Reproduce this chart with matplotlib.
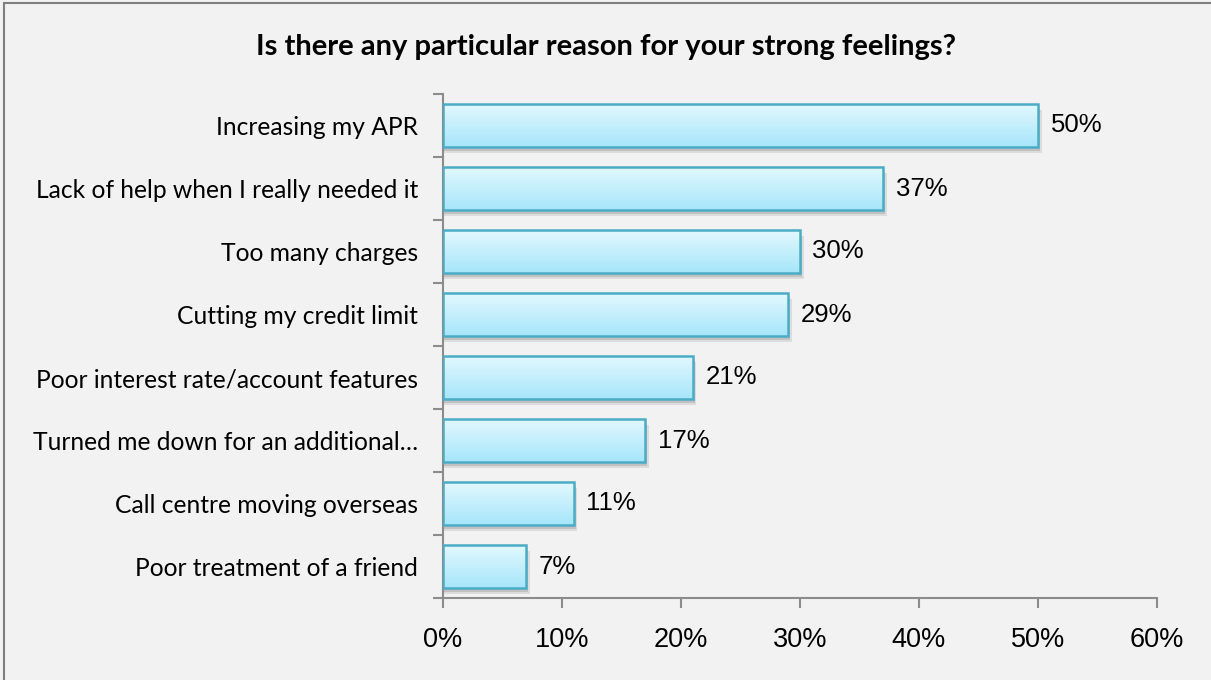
import numpy as np
import matplotlib.pyplot as plt
from matplotlib.colors import LinearSegmentedColormap
from matplotlib.patches import Rectangle
from matplotlib.lines import Line2D

reasons = [
    "Increasing my APR",
    "Lack of help when I really needed it",
    "Too many charges",
    "Cutting my credit limit",
    "Poor interest rate/account features",
    "Turned me down for an additional\u2026",
    "Call centre moving overseas",
    "Poor treatment of a friend",
]
shares = [50, 37, 30, 29, 21, 17, 11, 7]
xticks = [0, 10, 20, 30, 40, 50, 60]

bg = "#f2f2f2"
edge = "#4bacc6"
axis_grey = "#8c8c8c"
grad = LinearSegmentedColormap.from_list("bar", ["#a6e6fa", "#e2f8fe"])

fig = plt.figure(figsize=(12.11, 6.8), dpi=100, facecolor=bg)
ax = fig.add_axes([443 / 1211, 82 / 680, 714 / 1211, 504 / 680])
ax.set_facecolor(bg)

n = len(reasons)
ypos = np.arange(n)[::-1]
h = 0.68

for y, v in zip(ypos, shares):
    # soft drop shadow under each bar
    ax.add_patch(Rectangle((0, y - h / 2 - 0.10), v + 0.3, h, facecolor="#000000",
                           alpha=0.09, edgecolor="none", zorder=1))
    ax.add_patch(Rectangle((0, y - h / 2 - 0.06), v + 0.15, h, facecolor="#000000",
                           alpha=0.12, edgecolor="none", zorder=1))
    img = ax.imshow(np.linspace(0, 1, 64).reshape(-1, 1), cmap=grad, aspect="auto",
                    extent=(0, v, y - h / 2, y + h / 2), origin="lower", zorder=2)
    rect = Rectangle((0, y - h / 2), v, h, facecolor="none", edgecolor=edge,
                     linewidth=1.8, zorder=3)
    ax.add_patch(rect)
    img.set_clip_path(rect)
    ax.text(v + 1.05, y, f"{v}%", va="center", ha="left", fontsize=18.5,
            family="Liberation Sans", color="#000000", zorder=4)

ax.set_xlim(0, 60)
ax.set_ylim(-0.5, n - 0.5)
ax.set_xticks(xticks)
ax.set_xticklabels([f"{t}%" for t in xticks], fontsize=19.5, family="Liberation Sans")
ax.set_yticks(ypos)
ax.set_yticklabels(reasons, fontsize=17.7, family="Lato")
ax.set_yticks(np.arange(n + 1) - 0.5, minor=True)

for s in ["top", "right"]:
    ax.spines[s].set_visible(False)
for s in ["left", "bottom"]:
    ax.spines[s].set_color(axis_grey)
    ax.spines[s].set_linewidth(1.5)
ax.tick_params(axis="y", which="major", length=0, pad=18)
ax.tick_params(axis="y", which="minor", length=7, width=1.5, color=axis_grey, direction="out")
ax.tick_params(axis="x", length=7, width=1.5, color=axis_grey, pad=14)

fig.text(606 / 1211, 1 - 47 / 680,
         "Is there any particular reason for your strong feelings?",
         ha="center", va="center", fontsize=21, fontweight="bold", family="Lato")

# chart frame: only the top and left edges fall inside the image
x0, y0 = 4 / 1211, 1 - 3 / 680
fig.add_artist(Line2D([x0, 1.0], [y0, y0], transform=fig.transFigure,
                      color="#7f7f7f", linewidth=1.5))
fig.add_artist(Line2D([x0, x0], [0, y0], transform=fig.transFigure,
                      color="#7f7f7f", linewidth=1.5))

fig.savefig("out.png", dpi=100, facecolor=bg)
